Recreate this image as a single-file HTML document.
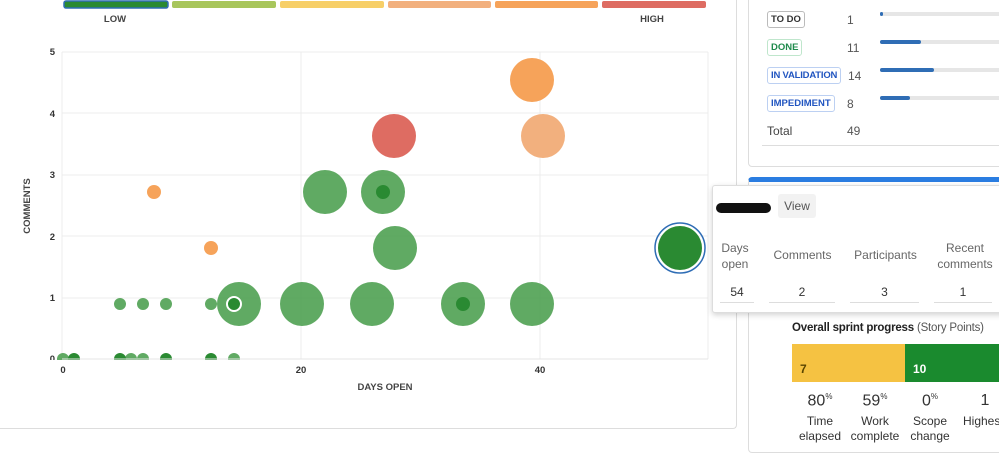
<!DOCTYPE html>
<html><head><meta charset="utf-8"><style>
body{margin:0;width:999px;height:437px;background:#fff;font-family:"Liberation Sans",sans-serif;position:relative;overflow:hidden}
.abs{position:absolute}
.lbl{position:absolute;font-size:9.5px;border:1px solid;border-radius:3px;padding:2px 3px;font-weight:bold;white-space:nowrap}
.num{position:absolute;font-size:12px;color:#555}
.track{position:absolute;left:880px;width:130px;height:4px;background:#e6e6e6;border-radius:2px}
.bar{height:4px;background:#2f6db5;border-radius:2px}
.tt{font-size:12px;color:#666;text-align:center;position:absolute}
</style></head><body>
<div class="abs" style="left:0;top:0;width:736px;height:428px;border-right:1px solid #ddd;border-bottom:1px solid #ddd;border-radius:0 0 4px 0"></div>
<svg class="abs" style="left:0;top:0" width="740" height="437">
<rect x="64" y="1" width="104" height="7" rx="2" fill="#2a8a32" stroke="#2f6db5" stroke-width="1.5"/>
<rect x="172" y="1" width="104" height="7" rx="2" fill="#a8c65c"/>
<rect x="280" y="1" width="104" height="7" rx="2" fill="#f7cf68"/>
<rect x="388" y="1" width="103" height="7" rx="2" fill="#f2b07e"/>
<rect x="495" y="1" width="103" height="7" rx="2" fill="#f6a35a"/>
<rect x="602" y="1" width="104" height="7" rx="2" fill="#de6c62"/>
<text x="115" y="22" font-size="9.5" font-weight="bold" fill="#444" text-anchor="middle">LOW</text>
<text x="652" y="22" font-size="9.5" font-weight="bold" fill="#444" text-anchor="middle">HIGH</text>
<g stroke="#ececec" stroke-width="1">
<line x1="62" y1="52" x2="708" y2="52"/><line x1="62" y1="113" x2="708" y2="113"/><line x1="62" y1="175" x2="708" y2="175"/><line x1="62" y1="236" x2="708" y2="236"/><line x1="62" y1="298" x2="708" y2="298"/><line x1="62" y1="359" x2="708" y2="359"/>
<line x1="62" y1="52" x2="62" y2="359"/><line x1="301" y1="52" x2="301" y2="359"/><line x1="540" y1="52" x2="540" y2="359"/><line x1="708" y1="52" x2="708" y2="359"/>
</g>
<g font-size="9.5" fill="#333" text-anchor="end" font-weight="bold">
<text x="55" y="55">5</text><text x="55" y="117">4</text><text x="55" y="178">3</text><text x="55" y="240">2</text><text x="55" y="301">1</text><text x="55" y="362">0</text></g>
<g font-size="9.5" fill="#333" text-anchor="middle" font-weight="bold"><text x="63" y="373">0</text><text x="301" y="373">20</text><text x="540" y="373">40</text></g>
<text x="385" y="390" font-size="9.5" font-weight="bold" fill="#444" text-anchor="middle">DAYS OPEN</text>
<text transform="translate(30,206) rotate(-90)" font-size="9.5" font-weight="bold" fill="#444" text-anchor="middle">COMMENTS</text>
<g fill="#4a9e4d" fill-opacity="0.88">
<circle cx="325" cy="192" r="22"/><circle cx="383" cy="192" r="22"/><circle cx="395" cy="248" r="22"/>
<circle cx="239" cy="304" r="22"/><circle cx="302" cy="304" r="22"/><circle cx="372" cy="304" r="22"/><circle cx="463" cy="304" r="22"/><circle cx="532" cy="304" r="22"/>
<circle cx="120" cy="304" r="6"/><circle cx="143" cy="304" r="6"/><circle cx="166" cy="304" r="6"/><circle cx="211" cy="304" r="6"/>
<circle cx="131" cy="359" r="6"/><circle cx="143" cy="359" r="6"/><circle cx="234" cy="359" r="6"/><circle cx="63" cy="359" r="6"/>
</g>
<g fill="#2a8a32"><circle cx="383" cy="192" r="7"/><circle cx="463" cy="304" r="7"/><circle cx="74" cy="359" r="6"/><circle cx="120" cy="359" r="6"/><circle cx="166" cy="359" r="6"/><circle cx="211" cy="359" r="6"/>
<circle cx="234" cy="304" r="7" stroke="#fff" stroke-width="2"/></g>
<rect x="0" y="360" width="735" height="6" fill="#fff"/>
<line x1="62" y1="359" x2="708" y2="359" stroke="#e4e4e4"/>
<circle cx="532" cy="80" r="22" fill="#f6a35a"/>
<circle cx="394" cy="136" r="22" fill="#de6c62"/>
<circle cx="543" cy="136" r="22" fill="#f2b07e"/>
<circle cx="154" cy="192" r="7" fill="#f6a35a"/><circle cx="211" cy="248" r="7" fill="#f6a35a"/>
<circle cx="680" cy="248" r="25" fill="none" stroke="#2f6db5" stroke-width="1.5"/>
<circle cx="680" cy="248" r="22" fill="#2a8a32"/>
</svg>
<div class="abs" style="left:748px;top:-5px;width:260px;height:170px;border:1px solid #ddd;border-radius:4px"></div>
<div class="lbl" style="left:767px;top:11px;color:#333;border-color:#bbb">TO DO</div><div class="num" style="left:847px;top:13px">1</div>
<div class="lbl" style="left:767px;top:39px;color:#1f8a4c;border-color:#bfe6cc">DONE</div><div class="num" style="left:847px;top:41px">11</div>
<div class="lbl" style="left:767px;top:67px;color:#2155c0;border-color:#bcd0f2;letter-spacing:-0.2px">IN VALIDATION</div><div class="num" style="left:848px;top:69px">14</div>
<div class="lbl" style="left:767px;top:95px;color:#2155c0;border-color:#bcd0f2">IMPEDIMENT</div><div class="num" style="left:847px;top:97px">8</div>
<div class="abs" style="left:767px;top:124px;font-size:12px;color:#444">Total</div><div class="num" style="left:847px;top:124px">49</div>
<div class="abs" style="left:762px;top:145px;width:240px;height:1px;background:#ddd"></div>
<div class="track" style="top:12px"><div class="bar" style="width:3px"></div></div>
<div class="track" style="top:40px"><div class="bar" style="width:41px"></div></div>
<div class="track" style="top:68px"><div class="bar" style="width:54px"></div></div>
<div class="track" style="top:96px"><div class="bar" style="width:30px"></div></div>
<div class="abs" style="left:748px;top:177px;width:260px;height:270px;border:1px solid #ddd;border-top:5px solid #2a7de1;border-radius:4px"></div>
<div class="abs" style="left:712px;top:185px;width:295px;height:126px;background:#fff;border:1px solid #ddd;border-radius:3px;box-shadow:0 2px 6px rgba(0,0,0,.18)"></div>
<div class="abs" style="left:716px;top:203px;width:55px;height:10px;background:#111;border-radius:5px"></div>
<div class="abs" style="left:778px;top:194px;width:38px;height:24px;background:#f2f2f2;border-radius:3px;font-size:12px;color:#555;line-height:24px;text-align:center">View</div>
<div class="tt" style="left:715px;top:240px;width:40px;line-height:16px">Days<br>open</div>
<div class="tt" style="left:765px;top:248px;width:75px">Comments</div>
<div class="tt" style="left:848px;top:248px;width:75px">Participants</div>
<div class="tt" style="left:930px;top:240px;width:70px;line-height:16px">Recent<br>comments</div>
<div class="tt" style="left:720px;top:285px;width:34px;color:#333;border-bottom:1px solid #ddd;padding-bottom:3px">54</div>
<div class="tt" style="left:769px;top:285px;width:66px;color:#333;border-bottom:1px solid #ddd;padding-bottom:3px">2</div>
<div class="tt" style="left:850px;top:285px;width:69px;color:#333;border-bottom:1px solid #ddd;padding-bottom:3px">3</div>
<div class="tt" style="left:934px;top:285px;width:58px;color:#333;border-bottom:1px solid #ddd;padding-bottom:3px">1</div>
<div class="abs" style="left:792px;top:322px;font-size:11.5px;color:#222;white-space:nowrap;letter-spacing:-0.2px"><b>Overall sprint progress</b> <span style="color:#555">(Story Points)</span></div>
<div class="abs" style="left:792px;top:344px;width:113px;height:38px;background:#f5c242"><span style="position:absolute;left:8px;top:18px;font-size:12px;font-weight:bold;color:#5a4500">7</span></div>
<div class="abs" style="left:905px;top:344px;width:100px;height:38px;background:#1a8a2e"><span style="position:absolute;left:8px;top:18px;font-size:12px;font-weight:bold;color:#fff">10</span></div>
<div class="abs" style="left:795px;top:392px;width:50px;text-align:center;font-size:16px;color:#333">80<sup style="font-size:8px">%</sup></div>
<div class="abs" style="left:850px;top:392px;width:50px;text-align:center;font-size:16px;color:#333">59<sup style="font-size:8px">%</sup></div>
<div class="abs" style="left:905px;top:392px;width:50px;text-align:center;font-size:16px;color:#333">0<sup style="font-size:8px">%</sup></div>
<div class="abs" style="left:965px;top:392px;width:40px;text-align:center;font-size:16px;color:#333">1</div>
<div class="abs" style="left:795px;top:414px;width:50px;text-align:center;font-size:12px;color:#333;line-height:15px">Time<br>elapsed</div>
<div class="abs" style="left:850px;top:414px;width:50px;text-align:center;font-size:12px;color:#333;line-height:15px">Work<br>complete</div>
<div class="abs" style="left:905px;top:414px;width:50px;text-align:center;font-size:12px;color:#333;line-height:15px">Scope<br>change</div>
<div class="abs" style="left:963px;top:414px;width:50px;font-size:12px;color:#333">Highest</div>
</body></html>
